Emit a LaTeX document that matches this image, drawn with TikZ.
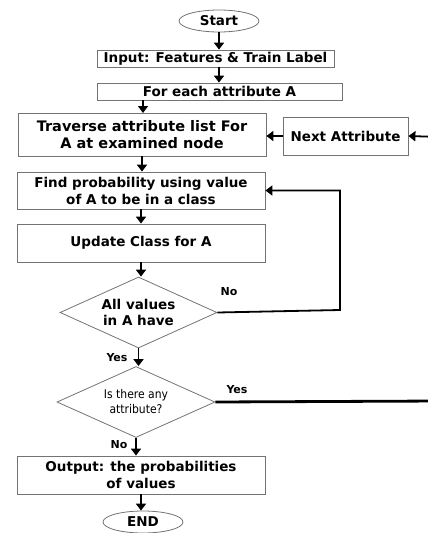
\documentclass[tikz,border=0pt]{standalone}
\usepackage{fontspec}
\setmainfont{DejaVu Sans}
\newfontfamily\condfont{DejaVu Sans Condensed}
\usetikzlibrary{shapes.geometric,arrows.meta}
\begin{document}
\begin{tikzpicture}[x=1pt,y=-1pt,
  box/.style={draw=black!55,line width=0.8pt,rectangle,inner sep=0pt,align=center,font=\fontsize{13.5}{17}\selectfont\bfseries},
  term/.style={draw=black!55,line width=0.8pt,ellipse,inner sep=0pt,minimum width=80pt,minimum height=22pt,font=\fontsize{13.5}{17}\selectfont\bfseries},
  decision/.style={draw=black!55,line width=0.8pt,diamond,aspect=2.2,inner sep=0pt,align=center},
  arr/.style={line width=1.8pt,-{Triangle[length=7pt,width=10pt]}},
  lbl/.style={font=\fontsize{11}{13}\selectfont\bfseries,inner sep=0pt}]
\useasboundingbox (0,0) rectangle (428,533);
\clip (0,0) rectangle (428,533);
\node[term] (start) at (219,21) {Start};
\node[box,minimum width=237pt,minimum height=17pt] (input) at (215.5,58.5) {Input: Features \& Train Label};
\node[box,minimum width=245pt,minimum height=17pt] (each) at (219.5,91.5) {For each attribute A};
\node[box,minimum width=248pt,minimum height=43pt,font=\fontsize{14.5}{17.5}\selectfont\bfseries] (trav) at (142,134.5) {Traverse attribute list For\\A at examined node};
\node[box,minimum width=125pt,minimum height=38pt] (next) at (345.5,136) {Next Attribute};
\node[box,minimum width=248pt,minimum height=37pt] (find) at (141,190.5) {Find probability using value\\of A to be in a class};
\node[box,minimum width=248pt,minimum height=38pt] (upd) at (141,243) {Update Class for A};
\node[decision,minimum width=157pt,minimum height=71pt,font=\fontsize{13.5}{16}\selectfont\bfseries] (d1) at (138.5,312.5) {All values\\in A have};
\node[decision,minimum width=158pt,minimum height=71pt,font=\fontsize{12}{15}\condfont] (d2) at (136,402) {Is there any\\attribute?};
\node[box,minimum width=248pt,minimum height=38pt] (out) at (141,475) {Output: the probabilities\\of values};
\node[term] (end) at (143,522) {END};
\coordinate (rt) at (440,401);
\coordinate (rtop) at (440,137);
\coordinate (nloop) at (340,310);
\draw[arr] (start.south) -- (start.south |- input.north);
\draw[arr] (start.south |- input.south) -- (start.south |- each.north);
\draw[arr] (143,100) -- (143,113);
\draw[arr] (next.west) -- (trav.east |- next.west);
\draw[arr] (trav.south) -- (find.north -| trav.south);
\draw[arr] (find.south) -- (upd.north);
\draw[arr] (upd.south) -- (upd.south |- d1.north);
\draw[arr] (d1.south) -- (d1.south |- d2.north);
\draw[arr] (d2.south) -- (d2.south |- out.north);
\draw[arr] (out.south) -- (out.south |- end.north);
\draw[arr] (d1.east) -- (nloop) |- (find.east);
\draw[line width=2.8pt] (d2.east) -- (rt);
\draw[arr] (rt) -- (rtop) -- (next.east);
\node[lbl] (no1) at (229,292) {No};
\node[lbl] (yes1) at (117,358) {Yes};
\node[lbl] (yes2) at (237,390) {Yes};
\node[lbl] (no2) at (119,445) {No};
\end{tikzpicture}
\end{document}
